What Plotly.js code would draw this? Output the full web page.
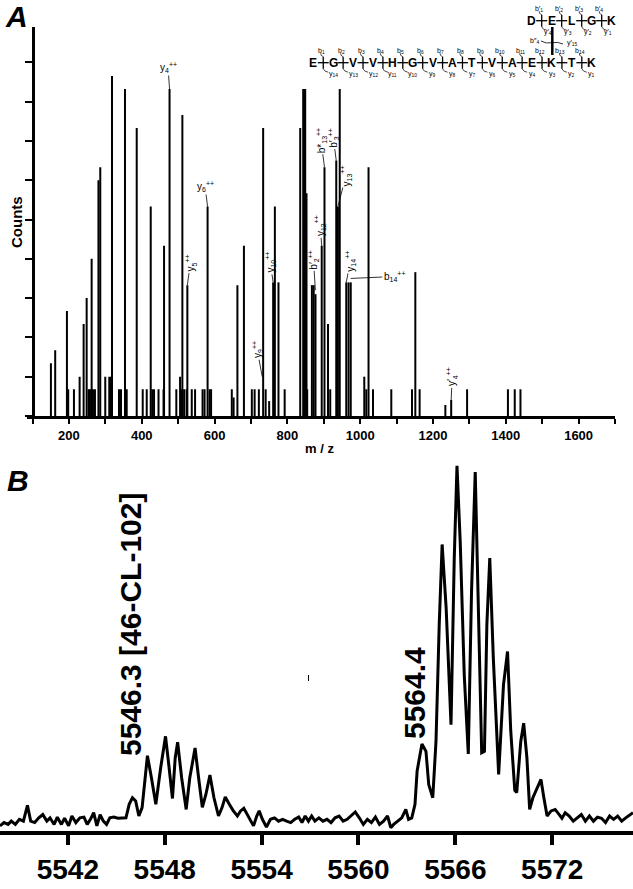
<!DOCTYPE html>
<html>
<head>
<meta charset="utf-8">
<script src="https://cdn.plot.ly/plotly-3.0.1.min.js"></script>
<style>
  html, body { margin: 0; padding: 0; background: #fff; }
  #chart { width: 633px; height: 889px; }
</style>
</head>
<body>
<div id="chart"></div>
<script>
// ---- Panel A: MS/MS stick spectrum (m/z, counts in tick units) ----
const msmsMz = [150.5, 162.3, 194.5, 198, 213.8, 229.4, 240.4, 248.7, 254.2, 257.8,
  262.4, 266, 271.5, 281.1, 286.1, 299.8, 310.8, 315.5, 318.3, 337.5,
  343, 354, 358.7, 386.2, 402.7, 413.7, 424.7, 429, 433.8, 446.1,
  459.9, 461.3, 476.4, 495, 505.3, 509.4, 511.6, 516.3, 523.1, 525.3,
  537.4, 546.5, 567.1, 572.6, 580.9, 586.4, 590.5, 647.4, 652.4, 662.8,
  680.7, 702.4, 710.1, 721.7, 733.5, 740.4, 750, 761, 765.7, 775.6,
  792.6, 835.3, 843.5, 846, 849, 852.6, 854.5, 867.4, 872.4, 877.3,
  894.4, 902, 911.7, 917.8, 934.3, 938.9, 943.9, 961.8, 968.1, 974.1,
  1011.3, 1016.8, 1023, 1035.2, 1085.5, 1142.4, 1151.5, 1163.3, 1234, 1250,
  1293.7, 1405.9, 1424.6, 1440.3];
const msmsCounts = [1.34, 1.67, 2.67, 0.68, 0.68, 1.0, 2.34, 3.0, 0.68, 0.68,
  4.0, 0.68, 0.68, 6.0, 6.33, 1.0, 1.0, 1.0, 8.65, 0.68,
  0.68, 8.32, 0.68, 7.33, 0.68, 0.68, 5.33, 0.68, 0.68, 0.68,
  0.68, 4.33, 8.32, 0.68, 1.0, 0.68, 7.66, 0.68, 0.68, 3.33,
  0.68, 0.68, 0.68, 0.68, 5.33, 0.68, 0.68, 0.68, 0.47, 3.33,
  4.33, 0.68, 0.68, 0.68, 7.33, 0.68, 0.38, 3.4, 5.33, 3.4,
  0.68, 7.33, 8.32, 8.32, 8.32, 5.67, 0.68, 3.33, 3.33, 3.1,
  4.33, 6.33, 2.34, 0.68, 6.5, 5.33, 8.32, 3.4, 3.4, 3.4,
  1.0, 0.68, 6.33, 0.68, 0.68, 0.68, 3.66, 0.68, 0.28, 0.41,
  0.68, 0.68, 0.68, 0.68];

// fragment ion labels (text, peak they point at)
const ionText = ['y<sub>4</sub><sup>++</sup>', 'y<sub>6</sub><sup>++</sup>', 'y<sub>5</sub><sup>++</sup>',
  'y<sub>9</sub><sup>++</sup>', 'y<sub>10</sub><sup>++</sup>', 'b′<sub>2</sub><sup>++</sup>',
  'y<sub>12</sub><sup>++</sup>', 'b*<sub>13</sub><sup>++</sup>', 'b′<sub>3</sub><sup>++</sup>',
  'y<sub>13</sub><sup>++</sup>', 'y<sub>14</sub><sup>++</sup>', 'b<sub>14</sub><sup>++</sup>',
  'y′<sub>4</sub><sup>++</sup>'];
const ionMz = [476.4, 580.9, 525.3, 731, 761, 877, 894.4, 902, 934.3, 938.9, 961.8, 974.1, 1250];
const ionCounts = [8.32, 5.33, 3.33, 1.0, 3.4, 3.2, 4.33, 6.33, 6.5, 5.33, 3.4, 3.5, 0.41];

// peptide sequences of the cross-linked pair
const peptideLower = ['E', 'G', 'V', 'V', 'H', 'G', 'V', 'A', 'T', 'V', 'A', 'E', 'K', 'T', 'K'];
const peptideUpper = ['D', 'E', 'L', 'G', 'K'];

// ---- Panel B: MALDI isotope envelope ----
const isoMz = [5537.80, 5538.05, 5538.30, 5538.50, 5538.75, 5539.00, 5539.25, 5539.50, 5539.70, 5539.95,
  5540.20, 5540.45, 5540.70, 5540.90, 5541.15, 5541.35, 5541.60, 5541.80, 5542.05, 5542.25,
  5542.50, 5542.75, 5543.00, 5543.20, 5543.40, 5543.60, 5543.80, 5544.00, 5544.20, 5544.40,
  5544.60, 5544.85, 5545.10, 5545.35, 5545.60, 5545.80, 5546.00, 5546.20, 5546.40, 5546.60,
  5546.93, 5547.18, 5547.45, 5547.75, 5548.05, 5548.25, 5548.48, 5548.65, 5548.80, 5549.05,
  5549.33, 5549.55, 5549.88, 5550.10, 5550.33, 5550.55, 5550.80, 5551.05, 5551.33, 5551.55,
  5551.75, 5552.00, 5552.25, 5552.50, 5552.70, 5552.90, 5553.10, 5553.30, 5553.50, 5553.70,
  5553.85, 5554.05, 5554.30, 5554.55, 5554.80, 5555.05, 5555.30, 5555.55, 5555.80, 5556.05,
  5556.30, 5556.50, 5556.70, 5556.90, 5557.10, 5557.30, 5557.55, 5557.80, 5558.05, 5558.30,
  5558.55, 5558.80, 5559.05, 5559.30, 5559.55, 5559.80, 5560.05, 5560.30, 5560.55, 5560.80,
  5561.05, 5561.30, 5561.55, 5561.80, 5562.00, 5562.18, 5562.43, 5562.68, 5562.93, 5563.10,
  5563.30, 5563.50, 5563.63, 5563.93, 5564.18, 5564.35, 5564.60, 5564.80, 5565.00, 5565.18,
  5565.43, 5565.73, 5565.93, 5566.10, 5566.30, 5566.55, 5566.80, 5567.00, 5567.23, 5567.43,
  5567.63, 5567.80, 5567.95, 5568.13, 5568.35, 5568.68, 5568.98, 5569.23, 5569.43, 5569.68,
  5569.80, 5570.05, 5570.23, 5570.43, 5570.60, 5570.80, 5571.05, 5571.30, 5571.48, 5571.68,
  5571.93, 5572.18, 5572.43, 5572.60, 5572.80, 5573.05, 5573.30, 5573.55, 5573.80, 5574.05,
  5574.30, 5574.55, 5574.80, 5575.05, 5575.30, 5575.55, 5575.80, 5576.05, 5576.30, 5576.55,
  5576.80, 5577.00];
const isoIntensity = [1.4, 2.3, 1.8, 2.7, 1.8, 3.2, 2.7, 7.0, 2.7, 2.3,
  3.6, 4.5, 2.7, 3.6, 1.8, 3.8, 1.8, 3.5, 1.4, 4.1,
  2.3, 3.6, 3.8, 1.8, 3.2, 5.0, 1.4, 4.5, 2.7, 1.8,
  3.6, 3.8, 3.5, 3.5, 3.6, 7.3, 9.1, 8.2, 4.1, 6.4,
  20.6, 14.5, 7.3, 17.3, 25.9, 18.2, 8.9, 20.0, 24.3, 14.5,
  5.9, 14.5, 22.7, 14.5, 6.5, 10.0, 15.3, 9.1, 4.1, 6.4,
  9.3, 7.3, 5.5, 4.1, 5.5, 6.2, 4.5, 2.7, 1.4, 4.1,
  5.5, 3.2, 1.1, 3.2, 3.6, 2.7, 3.2, 2.7, 2.3, 3.2,
  3.8, 2.3, 4.1, 2.7, 4.1, 2.7, 3.6, 2.7, 3.2, 2.3,
  3.6, 4.1, 2.7, 3.2, 4.1, 5.2, 3.6, 1.8, 3.2, 2.3,
  3.8, 1.8, 2.7, 4.1, 0.9, 1.8, 2.7, 3.6, 5.9, 3.2,
  3.6, 7.3, 16.4, 23.8, 21.8, 12.7, 9.1, 24.5, 56.4, 78.4,
  60.9, 29.1, 74.5, 100, 79.1, 42.7, 21.1, 65.5, 98.2, 56.4,
  21.4, 21.8, 56.4, 74.7, 47.3, 15.5, 40.0, 49.1, 27.3, 11.1,
  10.5, 24.5, 29.5, 20.0, 5.9, 9.1, 11.8, 14.1, 9.1, 4.1,
  5.5, 5.9, 4.5, 3.5, 5.0, 4.1, 2.7, 3.6, 4.5, 2.7,
  4.1, 2.7, 3.8, 3.5, 2.3, 4.1, 3.2, 4.1, 2.7, 3.6,
  4.5, 5.0];
const isoTickStart = 5542;
const isoTickStep = 6;

// ---------------------------------------------------------------
const W = 633, H = 889;
const FONT = 'Liberation Sans, Arial, Helvetica, sans-serif';
const px = x => x / W;
const py = y => 1 - y / H;

// centred text in paper coordinates (pixel position in, paper fraction out)
function paperText(x, y, text, font, extra) {
  return Object.assign({
    xref: 'paper', yref: 'paper', x: px(x), y: py(y), text: text,
    xanchor: 'center', yanchor: 'middle', showarrow: false,
    font: Object.assign({ family: FONT, color: '#000' }, font)
  }, extra || {});
}

// sticks as one line trace: base -> top -> gap
const stickX = [], stickY = [];
msmsMz.forEach((m, i) => {
  stickX.push(m, m, null);
  stickY.push(0, msmsCounts[i], null);
});

const traces = [
  {
    x: stickX, y: stickY, xaxis: 'x', yaxis: 'y',
    type: 'scatter', mode: 'lines',
    line: { color: '#000', width: 2 },
    hoverinfo: 'skip', showlegend: false
  },
  {
    x: isoMz, y: isoIntensity, xaxis: 'x2', yaxis: 'y2',
    type: 'scatter', mode: 'lines',
    line: { color: '#000', width: 3, shape: 'linear' },
    hoverinfo: 'skip', showlegend: false
  }
];

const annotations = [];
const shapes = [];

// panel letters and axis titles
annotations.push(paperText(16, 17, 'A', { size: 30, weight: 'bold', style: 'italic' }));
annotations.push(paperText(18, 480, 'B', { size: 30, weight: 'bold', style: 'italic' }));
annotations.push(paperText(16, 222, 'Counts', { size: 15, weight: 'bold' }, { textangle: -90 }));
annotations.push(paperText(319, 449, 'm / z', { size: 13, weight: 'bold' }));

// ion label offsets: [ax, ay, angle]
const ionOffsets = [[-1.5, -21.5, 0], [-2.5, -20, 0], [3, -22, -90], [-5, -27, -90], [-3, -20, -90],
  [-2, -31, -90], [-1.5, -20, -90], [-3.5, -27, -90], [-3, -23, -90], [8, -31, -90],
  [4, -21, -90], [44, -2, 0], [1, -23, -90]];
ionText.forEach((t, i) => {
  const [ax, ay, ang] = ionOffsets[i];
  annotations.push({
    xref: 'x', yref: 'y', x: ionMz[i], y: ionCounts[i], text: t,
    showarrow: true, arrowhead: 0, arrowwidth: 0.8, arrowcolor: '#000', standoff: 0,
    ax: ax, ay: ay, textangle: ang,
    font: { family: FONT, size: 10, color: '#000' }
  });
});

// peptide fragmentation diagram
function drawPeptide(letters, x0, step, y, bName, yName, bDx, yDx) {
  const n = letters.length;
  letters.forEach((L, i) => {
    annotations.push(paperText(x0 + i * step, y, L, { size: 12, weight: 'bold' }));
  });
  for (let i = 0; i < n - 1; i++) {
    const a = x0 + i * step, b = a + step, g = a + step / 2;
    shapes.push({ type: 'line', xref: 'paper', yref: 'paper', x0: px(a + 4.5), x1: px(b - 4.5),
      y0: py(y), y1: py(y), line: { color: '#000', width: 1.3 } });
    shapes.push({ type: 'line', xref: 'paper', yref: 'paper', x0: px(g), x1: px(g),
      y0: py(y - 6), y1: py(y + 6), line: { color: '#000', width: 1.3 } });
    shapes.push({ type: 'path', xref: 'paper', yref: 'paper',
      path: `M ${px(g)},${py(y - 6)} Q ${px(g - 3)},${py(y - 7)} ${px(g - 2.5)},${py(y - 9.5)}`,
      line: { color: '#000', width: 0.7 } });
    shapes.push({ type: 'path', xref: 'paper', yref: 'paper',
      path: `M ${px(g)},${py(y + 6)} Q ${px(g + 1)},${py(y + 9)} ${px(g + 5)},${py(y + 9.5)}`,
      line: { color: '#000', width: 0.7 } });
    annotations.push(paperText(g + bDx, y - 12, bName(i + 1), { size: 7 }));
    annotations.push(paperText(g + yDx, y + 11.5, yName(n - 1 - i), { size: 7 }));
  }
}
drawPeptide(peptideLower, 313.3, 19.89, 62.7,
  k => `b<sub>${k}</sub>`, k => `y<sub>${k}</sub>`, -2, 10);
drawPeptide(peptideUpper, 531.7, 20, 20.7,
  k => `b′<sub>${k}</sub>`, k => `y′<sub>${k}</sub>`, -2.5, 6);

// cross-link between upper E and lower K
shapes.push({ type: 'line', xref: 'paper', yref: 'paper', x0: px(552.3), x1: px(552.3),
  y0: py(27), y1: py(55), line: { color: '#000', width: 2.5 } });
shapes.push({ type: 'path', xref: 'paper', yref: 'paper',
  path: `M ${px(541)},${py(41)} Q ${px(546)},${py(44)} ${px(552)},${py(42.7)} Q ${px(558)},${py(41.5)} ${px(563)},${py(44)}`,
  line: { color: '#000', width: 0.8 } });
annotations.push(paperText(534, 41, 'b″<sub>4</sub>', { size: 7 }));
annotations.push(paperText(572, 43.3, 'y′<sub>15</sub>', { size: 7 }));

// panel B peak labels
annotations.push(paperText(130, 625, '5546.3 [46-CL-102]', { size: 30, weight: 'bold' }, { textangle: -90 }));
annotations.push(paperText(414, 693, '5564.4', { size: 30, weight: 'bold' }, { textangle: -90 }));

// small stray mark in panel B
shapes.push({ type: 'line', xref: 'paper', yref: 'paper', x0: px(308.5), x1: px(308.5),
  y0: py(675), y1: py(681), line: { color: '#000', width: 1 } });

const layout = {
  width: W, height: H,
  margin: { l: 0, r: 0, t: 0, b: 0, pad: 0 },
  paper_bgcolor: '#fff', plot_bgcolor: 'rgba(0,0,0,0)',
  font: { family: FONT, color: '#000' },
  showlegend: false,
  xaxis: {
    domain: [px(26.7), px(615)], range: [84, 1700], anchor: 'y',
    showline: true, linewidth: 3, linecolor: '#000',
    ticks: 'outside', ticklen: 5, tickwidth: 2, tickcolor: '#000',
    tick0: 0, dtick: 200,
    minor: { dtick: 100, ticks: 'outside', ticklen: 5, tickwidth: 2, tickcolor: '#000' },
    showgrid: false, zeroline: false,
    tickfont: { family: FONT, size: 13, weight: 'bold', color: '#000' }
  },
  yaxis: {
    domain: [py(416), py(26.7)], range: [0, 9.906], anchor: 'free', position: px(33.3),
    showline: true, linewidth: 3, linecolor: '#000',
    ticks: 'outside', ticklen: 7, tickwidth: 2, tickcolor: '#000', dtick: 1,
    showticklabels: false, showgrid: false, zeroline: false
  },
  xaxis2: {
    domain: [0, 1], range: [5537.8, 5577], anchor: 'y2',
    showline: true, linewidth: 4, linecolor: '#000',
    ticks: 'outside', ticklen: 10, tickwidth: 4, tickcolor: '#000',
    tick0: isoTickStart, dtick: isoTickStep,
    showgrid: false, zeroline: false,
    tickfont: { family: FONT, size: 28, weight: 'bold', color: '#000' }
  },
  yaxis2: {
    domain: [py(831), py(465.5)], range: [0, 100], anchor: 'x2',
    visible: false, showgrid: false, zeroline: false
  },
  annotations: annotations,
  shapes: shapes
};

Plotly.newPlot('chart', traces, layout, { displayModeBar: false, staticPlot: true });
</script>
</body>
</html>
